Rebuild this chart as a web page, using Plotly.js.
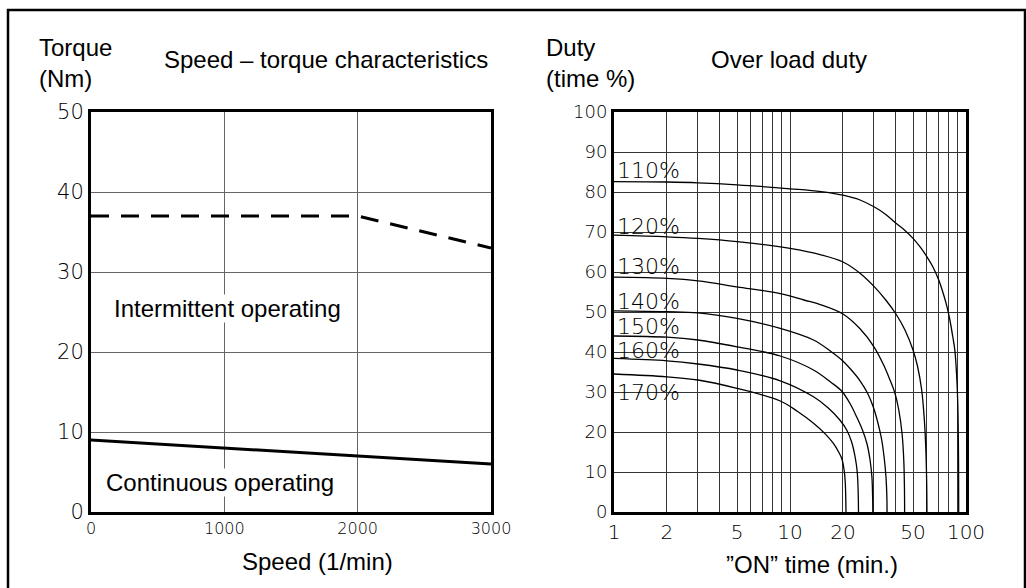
<!DOCTYPE html>
<html><head><meta charset="utf-8">
<script src="https://cdn.plot.ly/plotly-3.0.1.min.js"></script>
<style>html,body{margin:0;padding:0;background:#fff;overflow:hidden}#chart{width:1026px;height:588px}</style>
</head><body><div id="chart"></div>
<script>
// ---- Speed - torque characteristics ----
const speedTicks = [0, 1000, 2000, 3000];
const torqueTicks = [0, 10, 20, 30, 40, 50];
const continuousSpeed = [0, 1000, 2000, 3000];
const continuousTorque = [9, 8, 7, 6];
const intermittentSpeed = [0, 2000, 3000];
const intermittentTorque = [37, 37, 33];

// ---- Over load duty ----
const onTimeTicks = [1, 2, 5, 10, 20, 50, 100];
const onTimeMinor = [3, 4, 6, 7, 8, 9, 30, 40, 60, 70, 80, 90];
const dutyTicks = [0, 10, 20, 30, 40, 50, 60, 70, 80, 90, 100];
const loadLabels = ["110%", "120%", "130%", "140%", "150%", "160%", "170%"];
const loadLabelDuty = [85.5, 71.3, 61.3, 52.6, 46.3, 40.5, 29.8];

const time110 = [1, 2, 3, 5, 10, 15, 20, 25, 30, 35, 40, 45, 50, 55, 60, 65, 70, 75, 78, 81, 84, 86.4, 88.5, 89.8, 90.5, 90.8, 90.9];
const duty110 = [82.6, 82.5, 82.3, 81.8, 80.8, 80.1, 79.2, 78, 76.3, 74.4, 72.2, 70.4, 68.4, 66.2, 63.8, 61.2, 58, 54, 51.3, 48, 44, 40.5, 34, 27, 18, 8, 0];
const time120 = [1, 2, 3, 5, 10, 15, 20, 25, 30, 35, 40, 45, 50, 53, 56, 58, 59.2, 59.8, 60];
const duty120 = [69.2, 68.8, 68.4, 67.6, 65.9, 64.3, 62.5, 59.7, 56.4, 53, 49.5, 45.5, 40.5, 36.5, 30.5, 23, 15, 7, 0];
const time130 = [1, 2, 3, 5, 8.8, 12, 15, 20, 25, 30, 34, 37, 39.4, 41.5, 43.3, 44.3, 44.7, 44.8];
const duty130 = [58.7, 58.4, 57.8, 56.3, 54.6, 53, 51.8, 49.5, 45.8, 41.3, 36.8, 33, 29.8, 25.5, 19.7, 13, 6, 0];
const time140 = [1, 2, 3, 5, 8.8, 13.6, 17, 19.7, 22, 25, 27.5, 29.7, 31.7, 33.2, 34.4, 35.1, 35.5, 35.6];
const duty140 = [50.3, 50.1, 49.8, 48.4, 45.9, 43, 40.2, 38, 35.8, 32.8, 29.8, 26.3, 22, 18, 13, 8.8, 4, 0];
const time150 = [1, 2, 3, 5, 8.8, 13.6, 17, 19.7, 22, 23.9, 25.8, 27.4, 28.5, 29.2, 29.5, 29.55];
const duty150 = [44, 43.7, 43, 41.3, 39, 35.5, 32.5, 30.2, 27, 23.8, 20.5, 17, 13, 8.8, 3, 0];
const time160 = [1, 2, 3, 5, 8.8, 13.6, 16.5, 19.2, 21, 22.4, 23.5, 24.1, 24.4, 24.5];
const duty160 = [38.4, 37.8, 37, 35.5, 32.8, 28.8, 26, 23, 20.5, 17.5, 13.5, 10, 5, 0];
const time170 = [1, 2, 3, 5, 8.8, 11, 13.6, 15.8, 17.6, 18.9, 19.7, 20.3, 20.6, 20.75, 20.8];
const duty170 = [34.5, 33.8, 33, 30.9, 27.75, 25.2, 22.2, 19.6, 17.2, 15, 13.3, 10.5, 7.5, 3, 0];

const W = 1026, H = 588;
const px = v => v / W;
const py = v => 1 - v / H;
const textFont = {family: 'Liberation Sans, Arial, sans-serif', size: 24, color: '#000'};
const tickFont = (s) => ({family: 'DejaVu Sans, sans-serif', size: s, color: '#000', weight: 200});

const curveSets = [
  [time110, duty110], [time120, duty120], [time130, duty130], [time140, duty140],
  [time150, duty150], [time160, duty160], [time170, duty170]
];

const traces = [
  {x: intermittentSpeed, y: intermittentTorque, xaxis: 'x', yaxis: 'y', mode: 'lines',
   line: {color: '#000', width: 3, dash: '18px,12px'}, hoverinfo: 'skip'},
  {x: continuousSpeed, y: continuousTorque, xaxis: 'x', yaxis: 'y', mode: 'lines',
   line: {color: '#000', width: 3}, hoverinfo: 'skip'}
];
curveSets.forEach(([t, d]) => traces.push({
  x: t, y: d, xaxis: 'x2', yaxis: 'y2', mode: 'lines',
  line: {color: '#000', width: 1.3, shape: 'spline', smoothing: 1}, hoverinfo: 'skip'
}));

const annotations = [
  {text: 'Speed – torque characteristics', x: px(326), y: py(59), xref: 'paper', yref: 'paper', xanchor: 'center', yanchor: 'middle', showarrow: false, font: textFont},
  {text: 'Over load duty', x: px(789), y: py(59), xref: 'paper', yref: 'paper', xanchor: 'center', yanchor: 'middle', showarrow: false, font: textFont},
  {text: 'Torque<br>(Nm)', x: px(37), y: py(32), xref: 'paper', yref: 'paper', xanchor: 'left', yanchor: 'top', align: 'left', showarrow: false, font: textFont},
  {text: 'Duty<br>(time %)', x: px(544), y: py(32), xref: 'paper', yref: 'paper', xanchor: 'left', yanchor: 'top', align: 'left', showarrow: false, font: textFont},
  {text: 'Speed (1/min)', x: px(317), y: py(561), xref: 'paper', yref: 'paper', xanchor: 'center', yanchor: 'middle', showarrow: false, font: textFont},
  {text: '”ON” time (min.)', x: px(812), y: py(564), xref: 'paper', yref: 'paper', xanchor: 'center', yanchor: 'middle', showarrow: false, font: textFont},
  {text: 'Intermittent operating', x: 1020, y: 25.4, xref: 'x', yref: 'y', xanchor: 'center', yanchor: 'middle', showarrow: false, font: textFont, bgcolor: '#fff', borderpad: 0},
  {text: 'Continuous operating', x: 968, y: 3.75, xref: 'x', yref: 'y', xanchor: 'center', yanchor: 'middle', showarrow: false, font: textFont, bgcolor: '#fff', borderpad: 0}
];
loadLabels.forEach((lab, i) => annotations.push({
  text: lab, x: 0, y: loadLabelDuty[i], xref: 'x2', yref: 'y2', xanchor: 'left', yanchor: 'middle',
  xshift: 1, showarrow: false, font: tickFont(22)
}));

const axisBase = {
  showline: true, mirror: true, linecolor: '#000', linewidth: 3, zeroline: false,
  showgrid: true, gridcolor: '#555', gridwidth: 1, ticks: '', fixedrange: true
};

const layout = {
  width: W, height: H, margin: {l: 0, r: 0, t: 0, b: 0},
  paper_bgcolor: '#fff', plot_bgcolor: '#fff', showlegend: false,
  xaxis: Object.assign({}, axisBase, {domain: [px(91), px(491)], range: [0, 3000], tickvals: speedTicks,
    tickfont: tickFont(16), anchor: 'y', gridcolor: '#666'}),
  yaxis: Object.assign({}, axisBase, {domain: [py(512), py(112)], range: [0, 50], tickvals: torqueTicks,
    tickfont: tickFont(21), anchor: 'x', gridcolor: '#666'}),
  xaxis2: Object.assign({}, axisBase, {domain: [px(614), px(966)], type: 'log', range: [0, 2],
    tickvals: onTimeTicks, ticktext: onTimeTicks.map(String), tickfont: tickFont(20), anchor: 'y2',
    gridcolor: '#333',
    minor: {tickvals: onTimeMinor, showgrid: true, gridcolor: '#333', gridwidth: 1, ticks: ''}}),
  yaxis2: Object.assign({}, axisBase, {domain: [py(512), py(112)], range: [0, 100], tickvals: dutyTicks,
    tickfont: tickFont(18), anchor: 'x2', gridcolor: '#333'}),
  annotations: annotations,
  shapes: [
    {type: 'rect', xref: 'paper', yref: 'paper', x0: px(8), x1: px(1025), y0: py(640), y1: py(10),
     line: {color: '#000', width: 2.5}, fillcolor: 'rgba(0,0,0,0)', layer: 'above'}
  ]
};

Plotly.newPlot('chart', traces, layout, {staticPlot: true, displayModeBar: false});
</script>
</body></html>
